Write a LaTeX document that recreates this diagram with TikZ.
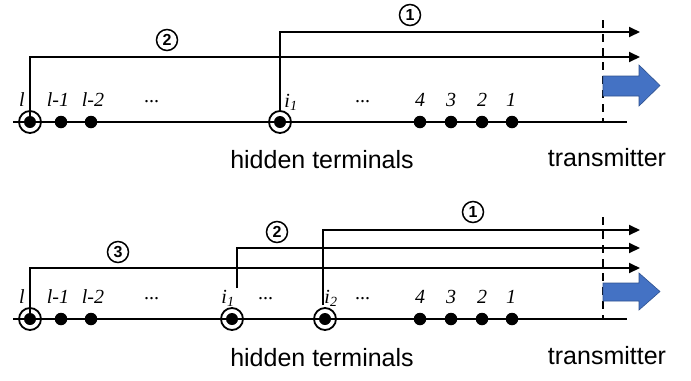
\documentclass[tikz,border=0pt]{standalone}
\usepackage{fontspec}
\setmainfont{Liberation Serif}
\setsansfont{Liberation Sans}
\usetikzlibrary{arrows.meta}
\definecolor{bluefill}{RGB}{68,114,196}
\definecolor{blueedge}{RGB}{47,82,143}
\begin{document}
\begin{tikzpicture}[x=1bp,y=-1bp,
  dotnode/.style={circle,fill=black,inner sep=0pt,minimum size=12.5bp},
  ringnode/.style={circle,draw=black,line width=1.8bp,inner sep=0pt,minimum size=22bp,
     path picture={\fill[black] (path picture bounding box.center) circle (6bp);}},
  lab/.style={font=\fontsize{20bp}{20bp}\selectfont\itshape,inner sep=0pt},
  cnum/.style={circle,draw=black,line width=1.5bp,inner sep=0pt,minimum size=21bp,
     font=\fontsize{16bp}{16bp}\selectfont\sffamily\bfseries},
  captiontext/.style={font=\fontsize{25bp}{25bp}\selectfont\sffamily,inner sep=0pt},
  pathline/.style={line width=1.9bp,-{Triangle[length=11bp,width=10bp]}},
  axisline/.style={line width=1.3bp},
  dashline/.style={line width=1.6bp,dash pattern=on 8bp off 6bp},
  bigarrow/.style={fill=bluefill,draw=blueedge,line width=0.6bp}
]
\useasboundingbox (0,0) rectangle (691,380);

% ---------------- top panel ----------------
\coordinate (ta) at (13,122);
\coordinate (tb) at (627,122);
\draw[axisline] (ta) -- (tb);
\node[ringnode] (tl) at (30,122) {};
\node[dotnode] (tl1) at (61,122) {};
\node[dotnode] (tl2) at (91,122) {};
\node[ringnode] (ti1) at (280,122) {};
\node[dotnode] (t4) at (420,122) {};
\node[dotnode] (t3) at (451,122) {};
\node[dotnode] (t2) at (482,122) {};
\node[dotnode] (t1) at (512,122) {};

\node[lab] (ltl) at (22,100) {l};
\node[lab] (ltl1) at (58,100) {l-1};
\node[lab] (ltl2) at (93,100) {l-2};
\node[lab] (tdots) at (152,102) {...};
\node[lab] (lti1) at (291,102) {i\textsubscript{\fontsize{14bp}{14bp}\selectfont 1}};
\node[lab] (tdots2) at (363,102) {...};
\node[lab] (lt4) at (420,100) {4};
\node[lab] (lt3) at (451,100) {3};
\node[lab] (lt2) at (482,100) {2};
\node[lab] (lt1) at (511,100) {1};

\coordinate (tc2) at (30,57);
\coordinate (te2) at (640,57);
\coordinate (tc1) at (280,32);
\coordinate (te1) at (640,32);
\draw[pathline] (tl.center) -- (tc2) -- (te2);
\draw[pathline] (ti1.north) -- (tc1) -- (te1);
\node[cnum] (tn2) at (167,40) {2};
\node[cnum] (tn1) at (410,15) {1};

\coordinate (td1) at (603,20);
\coordinate (td2) at (603,122);
\draw[dashline] (td1) -- (td2);
\draw[bigarrow] (603,76) -- (639,76) -- (639,65) -- (660,85.5) -- (639,106) -- (639,96) -- (603,96) -- cycle;

\node[captiontext] (thid) at (322,160) {hidden terminals};
\node[captiontext] (ttx) at (607,158) {transmitter};

% ---------------- bottom panel ----------------
\coordinate (ba) at (13,319);
\coordinate (bb) at (627,319);
\draw[axisline] (ba) -- (bb);
\node[ringnode] (bl) at (30,319) {};
\node[dotnode] (bl1) at (61,319) {};
\node[dotnode] (bl2) at (91,319) {};
\node[ringnode] (bi1) at (232,319) {};
\node[ringnode] (bi2) at (325,319) {};
\node[dotnode] (b4) at (420,319) {};
\node[dotnode] (b3) at (451,319) {};
\node[dotnode] (b2) at (482,319) {};
\node[dotnode] (b1) at (512,319) {};

\node[lab] (lbl) at (22,297) {l};
\node[lab] (lbl1) at (58,297) {l-1};
\node[lab] (lbl2) at (93,297) {l-2};
\node[lab] (bdots) at (152,299) {...};
\node[lab] (lbi1) at (228,298) {i\textsubscript{\fontsize{14bp}{14bp}\selectfont 1}};
\node[lab] (bdots2) at (266,299) {...};
\node[lab] (lbi2) at (331,298) {i\textsubscript{\fontsize{14bp}{14bp}\selectfont 2}};
\node[lab] (bdots3) at (363,299) {...};
\node[lab] (lb4) at (420,297) {4};
\node[lab] (lb3) at (451,297) {3};
\node[lab] (lb2) at (482,297) {2};
\node[lab] (lb1) at (511,297) {1};

\coordinate (bs2) at (237,288);
\coordinate (bs1) at (323,305);
\coordinate (bc3) at (30,268);
\coordinate (be3) at (640,268);
\coordinate (bc2) at (237,248);
\coordinate (be2) at (640,248);
\coordinate (bc1) at (323,230);
\coordinate (be1) at (640,230);
\draw[pathline] (bl.center) -- (bc3) -- (be3);
\draw[pathline] (bs2) -- (bc2) -- (be2);
\draw[pathline] (bs1) -- (bc1) -- (be1);
\node[cnum] (bn3) at (118,252) {3};
\node[cnum] (bn2) at (277,232) {2};
\node[cnum] (bn1) at (473,212) {1};

\coordinate (bd1) at (603,217);
\coordinate (bd2) at (603,319);
\draw[dashline] (bd1) -- (bd2);
\draw[bigarrow] (603,283) -- (639,283) -- (639,273) -- (660,291.5) -- (639,310) -- (639,301) -- (603,301) -- cycle;

\node[captiontext] (bhid) at (322,358) {hidden terminals};
\node[captiontext] (btx) at (607,356) {transmitter};
\end{tikzpicture}
\end{document}
